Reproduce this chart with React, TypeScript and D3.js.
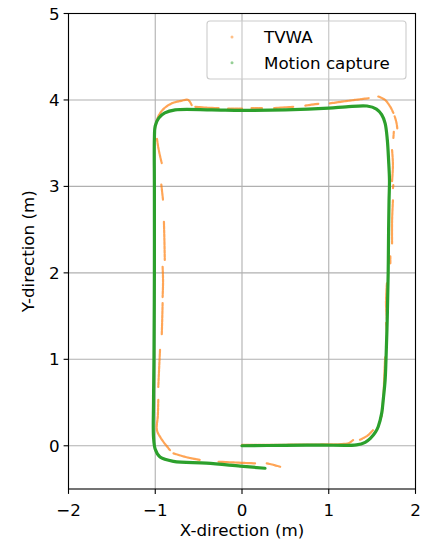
import React from "react";
import * as d3 from "d3";

const W = 422;
const H = 544;
const M = { left: 68.5, right: 415.5, top: 13.5, bottom: 489 };

const xTicks = [-2, -1, 0, 1, 2];
const yTicks = [0, 1, 2, 3, 4, 5];
const xDomain: [number, number] = [-2, 2];
const yDomain: [number, number] = [-0.5, 5];

// Motion capture trajectory (x, y) in metres
const motionCapture: [number, number][] = [
  [0, 0.0], [0.5, 0.005], [0.9, 0.008], [1.32, 0.01], [1.42, 0.04], [1.48, 0.085],
  [1.54, 0.16], [1.57, 0.22], [1.61, 0.375], [1.63, 0.55], [1.65, 0.76], [1.66, 1.0],
  [1.675, 1.5], [1.685, 2.0], [1.69, 2.5], [1.695, 2.84], [1.7, 3.07], [1.69, 3.3],
  [1.675, 3.54], [1.65, 3.73], [1.61, 3.83], [1.55, 3.895], [1.44, 3.93], [1.2, 3.92],
  [1.0, 3.905], [0.5, 3.885], [0.0, 3.88], [-0.35, 3.885], [-0.77, 3.885], [-0.89, 3.85],
  [-0.96, 3.79], [-1.0, 3.7], [-1.01, 3.55], [-1.01, 3.0], [-1.01, 2.0], [-1.015, 1.0],
  [-1.02, 0.5], [-1.02, 0.1], [-1.0, -0.04], [-0.945, -0.13], [-0.79, -0.18],
  [-0.41, -0.2], [-0.02, -0.235], [0.265, -0.26],
];

// TVWA estimate: fragments of the trajectory
const tvwa: [number, number][][] = [
  [[0.0, 0.01], [0.5, 0.012], [0.9, 0.015], [1.15, 0.02], [1.23, 0.03], [1.28, 0.066]],
  [[1.36, 0.07], [1.45, 0.12], [1.51, 0.18]],
  [[1.61, 0.34], [1.63, 0.57], [1.64, 0.8], [1.65, 1.03]],
  [[1.66, 1.15], [1.67, 1.3], [1.66, 1.42]],
  [[1.67, 1.46], [1.66, 1.65], [1.67, 1.88]],
  [[1.71, 2.11], [1.71, 2.19]],
  [[1.73, 2.34], [1.73, 2.6], [1.74, 2.84]],
  [[1.74, 2.98], [1.745, 3.02]],
  [[1.73, 3.06], [1.74, 3.25], [1.73, 3.42]],
  [[1.745, 3.56], [1.75, 3.63]],
  [[1.79, 3.67], [1.78, 3.74], [1.76, 3.81]],
  [[1.745, 3.85], [1.71, 3.92], [1.65, 4.0], [1.57, 4.04]],
  [[1.46, 4.02], [1.3, 4.0], [1.15, 3.98], [1.01, 3.96]],
  [[0.88, 3.955], [0.8, 3.945], [0.73, 3.935]],
  [[0.59, 3.92], [0.45, 3.912], [0.36, 3.905]],
  [[0.23, 3.905], [0.11, 3.905]],
  [[0.0, 3.9], [-0.16, 3.9]],
  [[-0.27, 3.905], [-0.4, 3.91], [-0.54, 3.92]],
  [[-0.58, 3.94], [-0.62, 4.0], [-0.7, 3.99], [-0.81, 3.96], [-0.9, 3.9], [-0.965, 3.81], [-1.0, 3.69]],
  [[-0.98, 3.55], [-0.965, 3.45], [-0.94, 3.33], [-0.925, 3.27]],
  [[-0.93, 3.02], [-0.91, 2.84]],
  [[-0.9, 2.59], [-0.895, 2.4], [-0.89, 2.15]],
  [[-0.915, 2.07], [-0.91, 1.9], [-0.915, 1.72]],
  [[-0.915, 1.65], [-0.92, 1.45], [-0.925, 1.28]],
  [[-0.945, 1.11], [-0.955, 0.9], [-0.965, 0.68]],
  [[-0.965, 0.53], [-0.97, 0.35], [-0.98, 0.18], [-0.93, 0.08], [-0.83, -0.05]],
  [[-0.79, -0.088], [-0.65, -0.13], [-0.48, -0.165]],
  [[-0.27, -0.185], [-0.05, -0.195], [0.15, -0.204]],
  [[0.285, -0.204], [0.36, -0.22], [0.44, -0.243]],
];

const seriesNames = ["TVWA", "Motion capture"];
const seriesColors = ["#ff7f0e", "#2ca02c"];

export default function App() {
  const x = d3.scaleLinear().domain(xDomain).range([M.left, M.right]);
  const y = d3.scaleLinear().domain(yDomain).range([M.bottom, M.top]);
  const line = d3
    .line<[number, number]>()
    .x((d) => x(d[0]))
    .y((d) => y(d[1]))
    .curve(d3.curveCatmullRom.alpha(0.5));

  const font = "DejaVu Sans, sans-serif";
  const fs = 16.7;

  return (
    <svg
      width={W}
      height={H}
      style={{ position: "fixed", left: 0, top: 0, background: "#fff" }}
      fontFamily={font}
    >
      <defs>
        <clipPath id="plot">
          <rect x={M.left} y={M.top} width={M.right - M.left} height={M.bottom - M.top} />
        </clipPath>
      </defs>
      {/* grid */}
      {xTicks.map((t) => (
        <line key={"gx" + t} x1={x(t)} x2={x(t)} y1={M.top} y2={M.bottom} stroke="#b0b0b0" strokeWidth={1.1} />
      ))}
      {yTicks.map((t) => (
        <line key={"gy" + t} y1={y(t)} y2={y(t)} x1={M.left} x2={M.right} stroke="#b0b0b0" strokeWidth={1.1} />
      ))}
      <g clipPath="url(#plot)">
        {tvwa.map((seg, i) => (
          <path
            key={"o" + i}
            d={line(seg) || ""}
            fill="none"
            stroke={seriesColors[0]}
            strokeOpacity={0.7}
            strokeWidth={2.2}
            strokeDasharray="3 1"
            strokeLinecap="round"
            strokeLinejoin="round"
          />
        ))}
        <path
          d={line(motionCapture) || ""}
          fill="none"
          stroke={seriesColors[1]}
          strokeWidth={3.2}
          strokeLinecap="round"
          strokeLinejoin="round"
        />
      </g>
      {/* spines */}
      <rect
        x={M.left}
        y={M.top}
        width={M.right - M.left}
        height={M.bottom - M.top}
        fill="none"
        stroke="#000"
        strokeWidth={1.1}
      />
      {/* x ticks */}
      {xTicks.map((t) => (
        <g key={"xt" + t}>
          <line x1={x(t)} x2={x(t)} y1={M.bottom} y2={M.bottom + 4.9} stroke="#000" strokeWidth={1.1} />
          <text x={x(t)} y={M.bottom + 27} fontSize={fs} textAnchor="middle" fill="#000">
            {t < 0 ? "\u2212" + Math.abs(t) : String(t)}
          </text>
        </g>
      ))}
      {yTicks.map((t) => (
        <g key={"yt" + t}>
          <line x1={M.left - 4.9} x2={M.left} y1={y(t)} y2={y(t)} stroke="#000" strokeWidth={1.1} />
          <text x={M.left - 9} y={y(t) + 6} fontSize={fs} textAnchor="end" fill="#000">
            {String(t)}
          </text>
        </g>
      ))}
      <text x={(M.left + M.right) / 2} y={536} fontSize={fs} textAnchor="middle" fill="#000">
        X-direction (m)
      </text>
      <text
        transform={`translate(34,${(M.top + M.bottom) / 2}) rotate(-90)`}
        fontSize={fs}
        textAnchor="middle"
        fill="#000"
      >
        Y-direction (m)
      </text>
      {/* legend */}
      <g>
        <rect x={207} y={21} width={199} height={58} rx={3} fill="#fff" fillOpacity={0.25} stroke="#cccccc" strokeWidth={1.1} />
        {seriesNames.map((n, i) => (
          <g key={n}>
            <circle cx={232} cy={37 + i * 25.7} r={1.5} fill={seriesColors[i]} fillOpacity={0.5} />
            <text x={264} y={43 + i * 25.7} fontSize={fs} fill="#000">
              {n}
            </text>
          </g>
        ))}
      </g>
    </svg>
  );
}
